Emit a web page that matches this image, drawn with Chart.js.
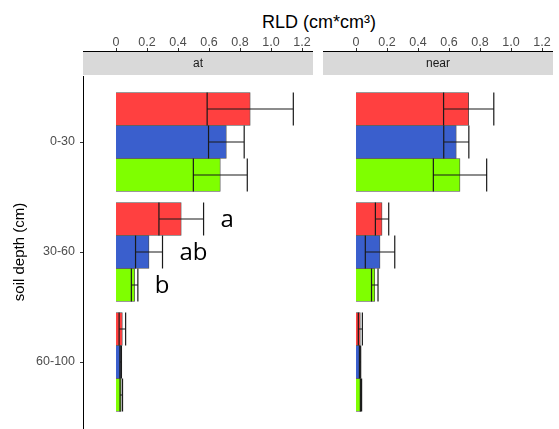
<!DOCTYPE html>
<html>
<head>
<meta charset="utf-8">
<script src="https://cdn.jsdelivr.net/npm/chart.js@4.4.0/dist/chart.umd.min.js"></script>
<style>
  html, body { margin: 0; padding: 0; background: #fff; }
  #wrap { position: relative; width: 559px; height: 429px; overflow: hidden; }
  #xtitle {
    position: absolute; top: 11px; left: 319px; transform: translateX(-50%);
    font: 18px "Liberation Sans", Arial, sans-serif; color: #000;
    white-space: nowrap; line-height: 22px;
  }
  #boxAt { position: absolute; left: 0; top: 0; width: 316px; height: 429px; }
  #boxNear { position: absolute; left: 323px; top: 0; width: 236px; height: 429px; }
</style>
</head>
<body>
<div id="wrap">
  <div id="xtitle">RLD (cm*cm³)</div>
  <div id="boxAt"><canvas id="chartAt"></canvas></div>
  <div id="boxNear"><canvas id="chartNear"></canvas></div>
</div>
<script>
const depths = ["0-30", "30-60", "60-100"];
const xTicks = [0, 0.2, 0.4, 0.6, 0.8, 1.0, 1.2];
const xTickLabels = ["0", "0.2", "0.4", "0.6", "0.8", "1.0", "1.2"];
const seriesColors = ["#ff4040", "#3a5fcd", "#7fff00"];

// Facette "at"
const atRed = [0.866, 0.421, 0.041];
const atRedErr = [0.278, 0.144, 0.021];
const atBlue = [0.712, 0.213, 0.030];
const atBlueErr = [0.115, 0.087, 0.005];
const atGreen = [0.673, 0.120, 0.034];
const atGreenErr = [0.174, 0.021, 0.008];
const atRedLetters = ["", "a", ""];
const atBlueLetters = ["", "ab", ""];
const atGreenLetters = ["", "b", ""];

// Facette "near"
const nearRed = [0.727, 0.168, 0.028];
const nearRedErr = [0.162, 0.043, 0.013];
const nearBlue = [0.647, 0.155, 0.026];
const nearBlueErr = [0.081, 0.095, 0.004];
const nearGreen = [0.671, 0.121, 0.032];
const nearGreenErr = [0.172, 0.021, 0.004];

const axisFont = { family: "'Liberation Sans', Arial, sans-serif", size: 12.5 };

function makeDataset(values, errors, color, letters) {
  return {
    data: values.map((v, i) => ({ x: v, y: i + 1 })),
    errors: errors,
    letters: letters || [],
    backgroundColor: color,
    borderColor: "rgba(30,30,30,0.8)",
    borderWidth: 0.8,
    barThickness: 33,
  };
}

// Strip + obere Achsenlinie + Fehlerbalken + Buchstaben
function facetPlugin(label) {
  return {
    id: "facet_" + label,
    afterDatasetsDraw(chart) {
      const ctx = chart.ctx;
      const xs = chart.scales.x;
      ctx.save();
      chart.data.datasets.forEach((ds, d) => {
        const meta = chart.getDatasetMeta(d);
        meta.data.forEach((bar, i) => {
          const v = ds.data[i].x;
          const e = ds.errors[i];
          const lo = xs.getPixelForValue(v - e);
          const hi = xs.getPixelForValue(v + e);
          const h = bar.height;
          ctx.strokeStyle = "#1a1a1a";
          ctx.lineWidth = 1.2;
          ctx.beginPath();
          ctx.moveTo(lo, bar.y);
          ctx.lineTo(hi, bar.y);
          ctx.moveTo(lo, bar.y - h / 2);
          ctx.lineTo(lo, bar.y + h / 2);
          ctx.moveTo(hi, bar.y - h / 2);
          ctx.lineTo(hi, bar.y + h / 2);
          ctx.stroke();
          const letter = ds.letters[i];
          if (letter) {
            ctx.fillStyle = "#000";
            ctx.font = "24px 'Open Sans', sans-serif";
            ctx.textAlign = "left";
            ctx.textBaseline = "alphabetic";
            ctx.fillText(letter, hi + 17, bar.y + 7.5);
          }
        });
      });
      ctx.restore();
    },
    afterDraw(chart) {
      const ctx = chart.ctx;
      const area = chart.chartArea;
      const xs = chart.scales.x;
      ctx.save();
      ctx.fillStyle = "#d9d9d9";
      ctx.fillRect(area.left, area.top - 24, area.right - area.left, 23);
      ctx.fillStyle = "#1a1a1a";
      ctx.font = "12px 'Liberation Sans', Arial, sans-serif";
      ctx.textAlign = "center";
      ctx.textBaseline = "middle";
      ctx.fillText(label, (area.left + area.right) / 2, area.top - 12);
      ctx.strokeStyle = "#000";
      ctx.lineWidth = 1;
      ctx.beginPath();
      ctx.moveTo(area.left, area.top - 24.5);
      ctx.lineTo(area.right, area.top - 24.5);
      ctx.stroke();
      ctx.strokeStyle = "#333";
      ctx.beginPath();
      xTicks.forEach((t) => {
        const px = Math.round(xs.getPixelForValue(t)) + 0.5;
        ctx.moveTo(px, area.top - 28);
        ctx.lineTo(px, area.top - 25);
      });
      ctx.stroke();
      ctx.restore();
    },
  };
}

function makeChart(canvasId, label, datasets, showY) {
  const ctx = document.getElementById(canvasId).getContext("2d");
  return new Chart(ctx, {
    type: "bar",
    data: { datasets },
    plugins: [facetPlugin(label)],
    options: {
      indexAxis: "y",
      responsive: true,
      maintainAspectRatio: false,
      animation: false,
      layout: { padding: { top: 0, bottom: 1, left: 0, right: showY ? 3 : 6 } },
      plugins: { legend: { display: false }, tooltip: { enabled: false } },
      scales: {
        x: {
          type: "linear",
          position: "top",
          min: -0.213,
          max: 1.271,
          grid: { display: false, drawTicks: false },
          border: { display: false },
          afterBuildTicks: (s) => { s.ticks = xTicks.map((v) => ({ value: v })); },
          afterFit: (s) => {
            s.height = 76;
            s.paddingLeft = 0;
            s.paddingRight = 0;
          },
          ticks: {
            autoSkip: false,
            maxRotation: 0,
            padding: 26,
            color: "#4d4d4d",
            font: axisFont,
            callback: (v, i) => xTickLabels[i],
          },
        },
        y: {
          type: "linear",
          display: showY,
          reverse: true,
          offset: false,
          min: 0.4,
          max: 3.6,
          afterBuildTicks: (s) => { s.ticks = depths.map((d, i) => ({ value: i + 1 })); },
          afterFit: (s) => {
            s.width = showY ? 83 : 0;
            s.paddingTop = 0;
            s.paddingBottom = 0;
          },
          grid: { drawOnChartArea: false, offset: false, tickLength: 3, color: "#333" },
          border: { display: true, color: "#000", width: 1 },
          ticks: {
            padding: 5,
            color: "#4d4d4d",
            font: axisFont,
            callback: (v, i) => depths[i],
          },
          title: {
            display: true,
            text: "soil depth (cm)",
            color: "#000",
            font: { family: "'Liberation Sans', Arial, sans-serif", size: 15 },
            padding: { top: 11, bottom: 0 },
          },
        },
      },
    },
  });
}

document.addEventListener("DOMContentLoaded", () => {
  makeChart("chartAt", "at", [
    makeDataset(atRed, atRedErr, seriesColors[0], atRedLetters),
    makeDataset(atBlue, atBlueErr, seriesColors[1], atBlueLetters),
    makeDataset(atGreen, atGreenErr, seriesColors[2], atGreenLetters),
  ], true);

  makeChart("chartNear", "near", [
    makeDataset(nearRed, nearRedErr, seriesColors[0]),
    makeDataset(nearBlue, nearBlueErr, seriesColors[1]),
    makeDataset(nearGreen, nearGreenErr, seriesColors[2]),
  ], false);
});
</script>
</body>
</html>
